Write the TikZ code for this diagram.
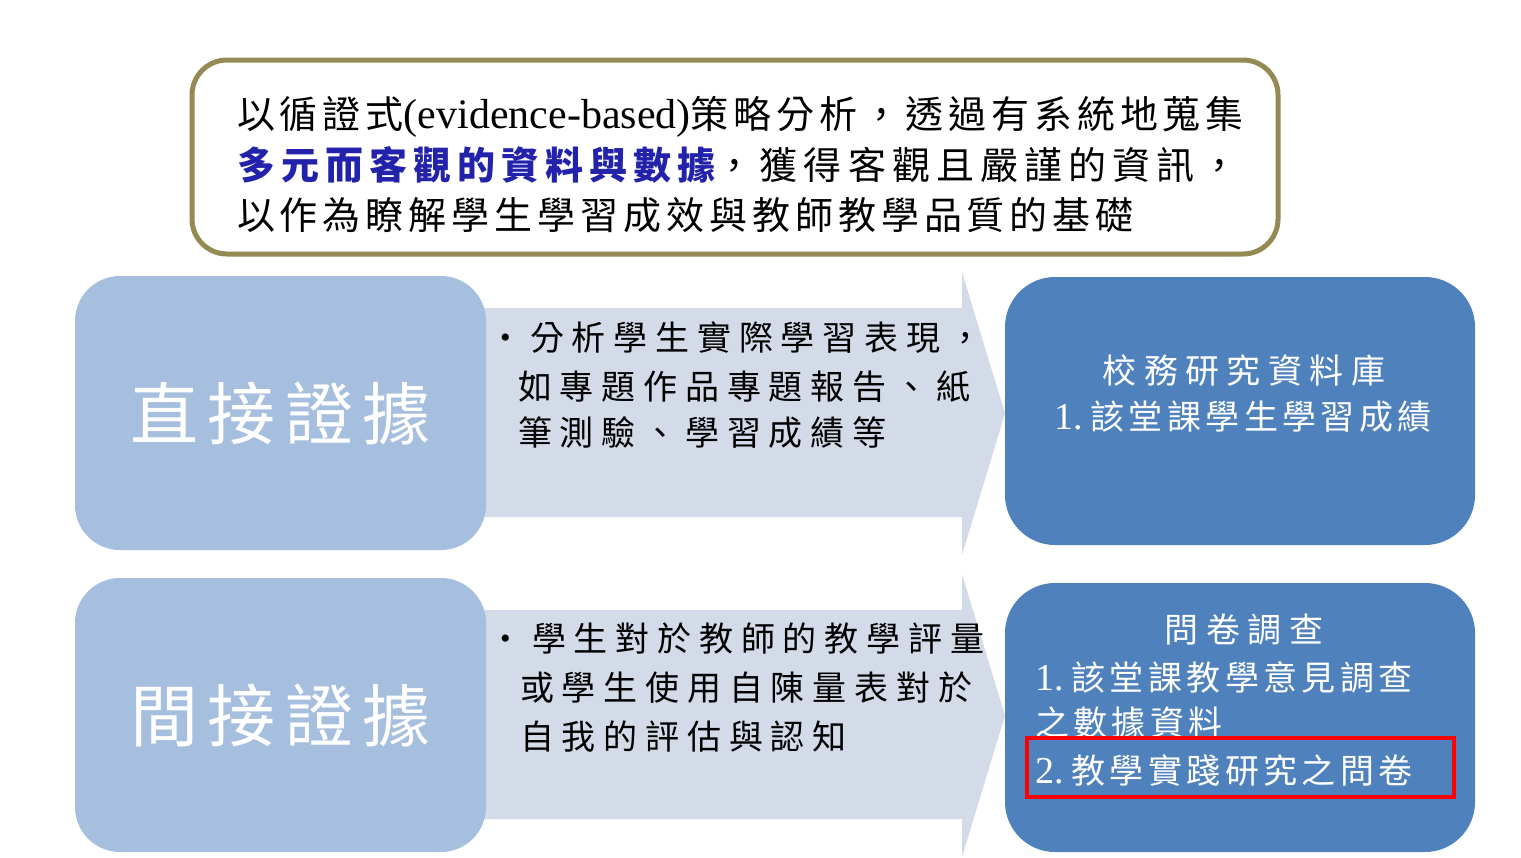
\documentclass[tikz,border=0pt]{standalone}
\usepackage{fontspec}
\setmainfont{Liberation Serif}
\newfontfamily\cjkA[LetterSpace=13]{Noto Sans CJK TC}
\newfontfamily\cjkE[LetterSpace=16]{Noto Sans CJK TC}
\newfontfamily\cjkB[LetterSpace=23]{Noto Sans CJK TC}
\newfontfamily\cjkC[LetterSpace=22]{Noto Sans CJK TC}
\newfontfamily\cjkF[LetterSpace=13]{Noto Sans CJK TC}
\newfontfamily\cjkD[LetterSpace=14]{Noto Sans CJK TC}
\newcommand\fsz[1]{\fontsize{#1}{#1}\selectfont}
\newcommand\numlbl[1]{{\rmfamily\fsz{38}#1}\hspace{8pt}}
\definecolor{olivebd}{HTML}{948A54}
\definecolor{lblue}{HTML}{A7BFDE}
\definecolor{arrowfill}{HTML}{D3DBE9}
\definecolor{dblue}{HTML}{4F81BD}
\definecolor{emblue}{HTML}{2222AA}
\tikzset{
  txt/.style={anchor=base west, inner sep=0pt, outer sep=0pt},
  ctxt/.style={anchor=base, inner sep=0pt, outer sep=0pt},
  lbox/.style={fill=lblue, rounded corners=45pt, minimum width=411pt, minimum height=274pt, inner sep=0pt, text=white, font={\cjkD\fsz{68}}},
  rbox/.style={fill=dblue, rounded corners=50pt, minimum width=470pt, minimum height=268pt, inner sep=0pt},
  arrowshape/.style={fill=arrowfill},
  atxt/.style={txt, font={\cjkB\fsz{34}}},
  rtxt/.style={txt, text=white, font={\cjkF\fsz{34}}},
  rtitle/.style={ctxt, text=white, font={\cjkC\fsz{34}}},
}
\begin{document}
\begin{tikzpicture}[x=1pt,y=-1pt]
\useasboundingbox[fill=white] (0,0) rectangle (1521,857);
% arrows
\fill[arrowshape] (470,308) -- (962,308) -- (962,272) -- (1005,413.5) -- (962,555) -- (962,517) -- (470,517) -- cycle;
\fill[arrowshape] (470,610) -- (962,610) -- (962,574) -- (1005,715.5) -- (962,857) -- (962,819) -- (470,819) -- cycle;
% left boxes
\node[lbox] (L1) at (280.5,413) {直接證據};
\node[lbox] (L2) at (280.5,715) {間接證據};
% right boxes
\node[rbox] (R1) at (1240,411) {};
\node[rbox, minimum height=269pt] (R2) at (1240,717.5) {};
% top box
\node[draw=olivebd, line width=5pt, rounded corners=35pt, minimum width=1086pt, minimum height=194pt, fill=white, inner sep=0pt] (top) at (735,157) {};
\node[txt] (t1) at (237,128.5) {{\cjkA\fsz{38}以循證式}{\fsz{42}(evidence-based)}{\cjkA\fsz{38}策略分析，透過有系統地蒐集}};
\node[txt] (t2) at (237,179.5) {{\cjkE\fsz{38}\color{emblue}\bfseries 多元而客觀的資料與數據}{\cjkE\fsz{38}，獲得客觀且嚴謹的資訊，}};
\node[txt] (t3) at (237,229.5) {{\cjkA\fsz{38}以作為瞭解學生學習成效與教師教學品質的基礎}};
% arrow texts
\node[txt] (b1) at (500,347) {\fsz{30}•};
\node[atxt] (a1) at (530,350) {分析學生實際學習表現，};
\node[atxt] (a2) at (518,399) {如專題作品專題報告、紙};
\node[atxt] (a3) at (518,445) {筆測驗、學習成績等};
\node[txt] (b2) at (500,648) {\fsz{30}•};
\node[atxt] (a4) at (532,651) {學生對於教師的教學評量};
\node[atxt] (a5) at (520,700) {或學生使用自陳量表對於};
\node[atxt] (a6) at (520,749) {自我的評估與認知};
% right texts
\node[rtitle] (r1) at (1244,383) {校務研究資料庫};
\node[rtxt] (r2) at (1054,429) {\numlbl{1.}該堂課學生學習成績};
\node[rtitle] (r3) at (1244,642) {問卷調查};
\node[rtxt] (r4) at (1035,690) {\numlbl{1.}該堂課教學意見調查};
\node[rtxt] (r5) at (1035,735) {之數據資料};
\node[rtxt] (r6) at (1035,783) {\numlbl{2.}教學實踐研究之問卷};
\node[draw=red, line width=4pt, minimum width=427pt, minimum height=59pt, inner sep=0pt] (hl) at (1240.5,767.5) {};
\end{tikzpicture}
\end{document}
